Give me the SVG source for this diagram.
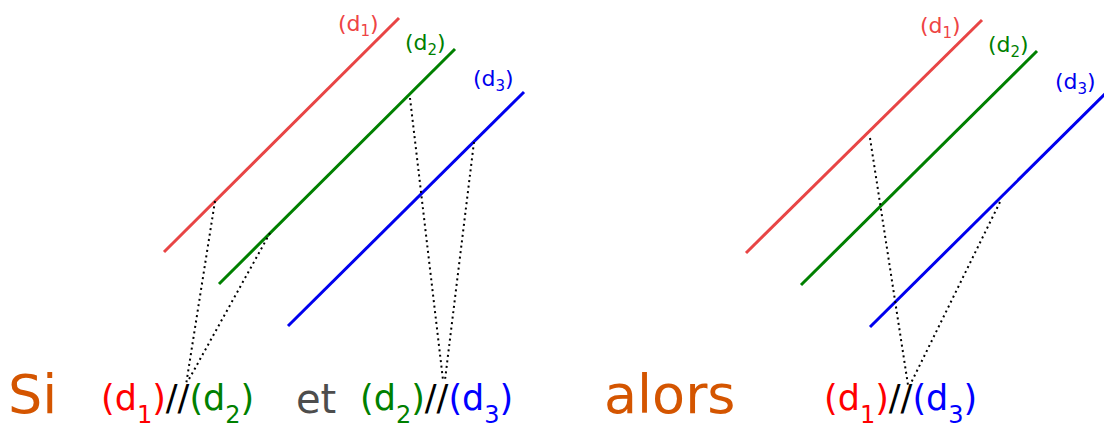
<svg xmlns="http://www.w3.org/2000/svg" width="1104" height="428" viewBox="0 0 1104 428">
<style>
text{font-family:"DejaVu Sans","Liberation Sans",sans-serif}
.l{stroke-width:3;fill:none;stroke-linecap:butt}
.r1{stroke:#e84545}.g{stroke:#008000}.b{stroke:#0000ee}
.dot{stroke:#000;stroke-width:2;stroke-dasharray:2 3.5;fill:none}
.lab{font-size:22px}
.sub{font-size:15px}
.big{font-size:35px}
.bs{font-size:24px}
.cr{fill:#ee4444}.cg{fill:#008000}.cb{fill:#0000ee}
.R{fill:#ff0000}.G{fill:#008000}.B{fill:#0000ff}.K{fill:#000}
.word{fill:#d45500;font-size:54px}
</style>
<g id="left-lines">
<line class="l r1" x1="164" y1="252" x2="399" y2="18"/>
<line class="l g" x1="219" y1="284" x2="455" y2="49"/>
<line class="l b" x1="288" y1="326" x2="524" y2="92"/>
</g>
<g id="right-lines">
<line class="l r1" x1="746" y1="253" x2="982" y2="20"/>
<line class="l g" x1="801" y1="285" x2="1037" y2="51"/>
<line class="l b" x1="870" y1="327" x2="1106" y2="93"/>
</g>
<g id="connectors">
<line class="dot" x1="215" y1="201" x2="186" y2="385"/>
<line class="dot" x1="270" y1="233" x2="188" y2="381"/>
<line class="dot" x1="410" y1="98" x2="443" y2="380"/>
<line class="dot" x1="474" y1="142" x2="445" y2="380"/>
<line class="dot" x1="870" y1="138" x2="908" y2="385"/>
<line class="dot" x1="1000" y1="202" x2="911" y2="383"/>
</g>
<g id="labels-top">
<text class="lab cr" x="338" y="31">(d<tspan class="sub" dy="5">1</tspan><tspan dy="-5">)</tspan></text>
<text class="lab cg" x="405" y="50">(d<tspan class="sub" dy="5">2</tspan><tspan dy="-5">)</tspan></text>
<text class="lab cb" x="473" y="86">(d<tspan class="sub" dy="5">3</tspan><tspan dy="-5">)</tspan></text>
<text class="lab cr" x="920" y="33">(d<tspan class="sub" dy="5">1</tspan><tspan dy="-5">)</tspan></text>
<text class="lab cg" x="988" y="52">(d<tspan class="sub" dy="5">2</tspan><tspan dy="-5">)</tspan></text>
<text class="lab cb" x="1055" y="89">(d<tspan class="sub" dy="5">3</tspan><tspan dy="-5">)</tspan></text>
</g>
<g id="si"><text class="word" x="8" y="413">Si</text></g>
<g id="hyp1"><text class="big" x="101" y="410"><tspan class="R">(d</tspan><tspan class="bs R" dy="13">1</tspan><tspan class="R" dy="-13">)</tspan><tspan class="K">//</tspan><tspan class="G">(d</tspan><tspan class="bs G" dy="13">2</tspan><tspan class="G" dy="-13">)</tspan></text></g>
<g id="et"><text x="296" y="413" style="font-size:40px;fill:#4d4d4d">et</text></g>
<g id="hyp2"><text class="big" x="360" y="410"><tspan class="G">(d</tspan><tspan class="bs G" dy="13">2</tspan><tspan class="G" dy="-13">)</tspan><tspan class="K">//</tspan><tspan class="B">(d</tspan><tspan class="bs B" dy="13">3</tspan><tspan class="B" dy="-13">)</tspan></text></g>
<g id="alors"><text class="word" x="604" y="413">alors</text></g>
<g id="concl"><text class="big" x="824" y="410"><tspan class="R">(d</tspan><tspan class="bs R" dy="13">1</tspan><tspan class="R" dy="-13">)</tspan><tspan class="K">//</tspan><tspan class="B">(d</tspan><tspan class="bs B" dy="13">3</tspan><tspan class="B" dy="-13">)</tspan></text></g>
</svg>
